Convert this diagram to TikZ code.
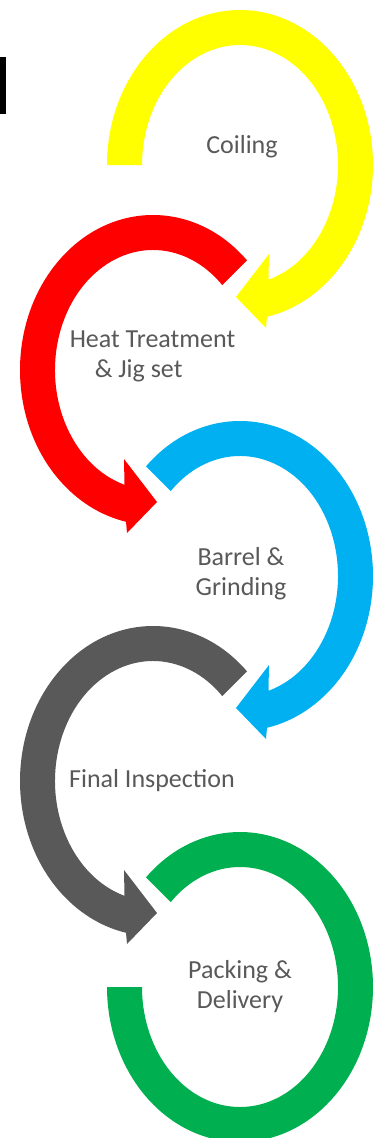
\documentclass[tikz,border=0pt]{standalone}
\usepackage{fontspec}
\setmainfont{Carlito}
\definecolor{ycol}{HTML}{FFFF00}
\definecolor{rcol}{HTML}{FF0000}
\definecolor{bcol}{HTML}{00B0F0}
\definecolor{gcol}{HTML}{595959}
\definecolor{ncol}{HTML}{00B050}
\definecolor{txtgray}{HTML}{595959}
\begin{document}
\begin{tikzpicture}[x=1pt,y=-1pt,
  lbl/.style={text=txtgray, font=\fontsize{26}{30}\selectfont, inner sep=0pt},
  outerR/.style={x radius=133, y radius=155},
  innerR/.style={x radius=98, y radius=120}]
\useasboundingbox (0,0) rectangle (384,1138);
\fill[white] (0,0) rectangle (384,1138);
% cropped black mark at left edge
\fill[black] (0,57) rectangle (6,114);
% Yellow (clockwise, head at bottom)
\begin{scope}[shift={(240,165)}]
\fill[ycol] (180:133 and 155) arc[start angle=180, end angle=438.3, outerR]
  -- (26,163) -- (-4,132) -- (29,89) -- (73.1:98 and 120)
  arc[start angle=433.1, end angle=180, innerR] -- cycle;
\end{scope}
% Red (counter-clockwise)
\begin{scope}[shift={(153,370)}]
\fill[rcol] (315:133 and 155) arc[start angle=315, end angle=101.7, outerR]
  -- (-26,163) -- (4,132) -- (-29,89) -- (106.9:98 and 120)
  arc[start angle=106.9, end angle=315, innerR] -- cycle;
\end{scope}
% Blue
\begin{scope}[shift={(240,576)}]
\fill[bcol] (225:133 and 155) arc[start angle=225, end angle=438.3, outerR]
  -- (26,163) -- (-4,132) -- (29,89) -- (73.1:98 and 120)
  arc[start angle=433.1, end angle=225, innerR] -- cycle;
\end{scope}
% Gray
\begin{scope}[shift={(153,781)}]
\fill[gcol] (315:133 and 155) arc[start angle=315, end angle=101.7, outerR]
  -- (-26,163) -- (4,132) -- (-29,89) -- (106.9:98 and 120)
  arc[start angle=106.9, end angle=315, innerR] -- cycle;
\end{scope}
% Green (no head)
\begin{scope}[shift={(240,987)}]
\fill[ncol] (225:133 and 155) arc[start angle=225, end angle=540, outerR]
  -- (540:98 and 120)
  arc[start angle=540, end angle=225, innerR] -- cycle;
\end{scope}
% labels
\node[lbl] (coil) at (242,147) {Coiling};
\node[lbl, align=left] (heat) at (152.5,356) {Heat Treatment\\\hspace*{25pt}\& Jig set};
\node[lbl, align=center] (barrel) at (241,574) {Barrel \&\\Grinding};
\node[lbl] (final) at (152,781) {Final Inspection};
\node[lbl, align=center] (pack) at (240,987) {Packing \&\\Delivery};
\end{tikzpicture}
\end{document}
